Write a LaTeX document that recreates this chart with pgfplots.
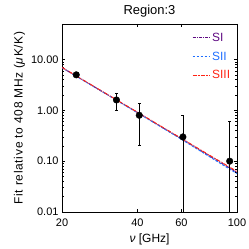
\documentclass[border=0pt]{standalone}
\usepackage{pgfplots}
\pgfplotsset{compat=1.18}
\usepackage{fontspec}
\setmainfont{Liberation Sans}
\newfontfamily\spacedfont[LetterSpace=6.0]{Liberation Sans}
\definecolor{cSI}{RGB}{95,10,130}
\definecolor{cSII}{RGB}{30,110,255}
\definecolor{cSIII}{RGB}{255,35,20}
\begin{document}
\begin{tikzpicture}
\useasboundingbox (-62bp,-37bp) rectangle (187bp,212bp);
\begin{axis}[
  scale only axis, width=175bp, height=188bp,
  xmode=log, ymode=log,
  xmin=20, xmax=100, ymin=0.01, ymax=50,
  xtick={20,40,60,100}, xticklabels={20,40,60,100},
  ytick={0.01,0.1,1,10}, yticklabels={0.01,0.10,1.00,10.00},
  /pgf/number format/assume math mode=true,
  tick style={black, line width=0.6pt},
  major tick length=3.5bp, minor tick length=2bp,
  axis line style={line width=0.8pt},
  ticklabel style={font=\fontsize{11}{12}\selectfont},
  xticklabel style={yshift=-3bp},
  title={Region:3}, title style={font=\fontsize{13}{14}\selectfont, yshift=-3bp},
  xlabel={\textit{ν} [GHz]}, ylabel={\spacedfont Fit relative to 408 MHz (\textit{μ}K/K)},
  xlabel style={font=\fontsize{12}{13}\selectfont, yshift=-1bp},
  ylabel style={font=\fontsize{12}{13}\selectfont, yshift=-1bp},
  legend style={draw=none, fill=none, at={(0.99,0.975)}, anchor=north east, font=\fontsize{12}{13}\selectfont, row sep=5bp, legend cell align=left},
]
\addplot[cSI, line width=1pt, dash pattern=on 3pt off 1.2pt on 0.8pt off 1.2pt] coordinates {(20,6.95) (30,2.11) (40,0.91) (60,0.275) (80,0.116) (100,0.060)};
\addlegendentry{\textcolor{cSI}{SI}}
\addplot[cSII, line width=1pt, dash pattern=on 2.5pt off 1.5pt] coordinates {(20,6.9) (30,2.1) (40,0.90) (60,0.27) (80,0.112) (100,0.057)};
\addlegendentry{\textcolor{cSII}{SII}}
\addplot[cSIII, line width=1pt, dash pattern=on 4pt off 1pt on 0.6pt off 1pt on 0.6pt off 1pt] coordinates {(20,7.0) (30,2.13) (40,0.92) (60,0.28) (80,0.120) (100,0.0627)};
\addlegendentry{\textcolor{cSIII}{SIII}}
\addplot[black, only marks, mark=*, mark size=3.3bp,
  error bars/.cd, y dir=both, y explicit, error bar style={line width=0.8pt}, error mark options={rotate=90, mark size=1.5bp, line width=0.8pt}]
  coordinates {
   (22.8,5.0) +- (0,0)
   (33.0,1.6) += (0,0.6) -= (0,0.6)
   (40.7,0.8) += (0,0.6) -= (0,0.6)
   (60.8,0.3) += (0,0.5) -= (0,0.2999)
   (93.5,0.1) += (0,0.5) -= (0,0.0999)
  };
\end{axis}
\end{tikzpicture}
\end{document}
